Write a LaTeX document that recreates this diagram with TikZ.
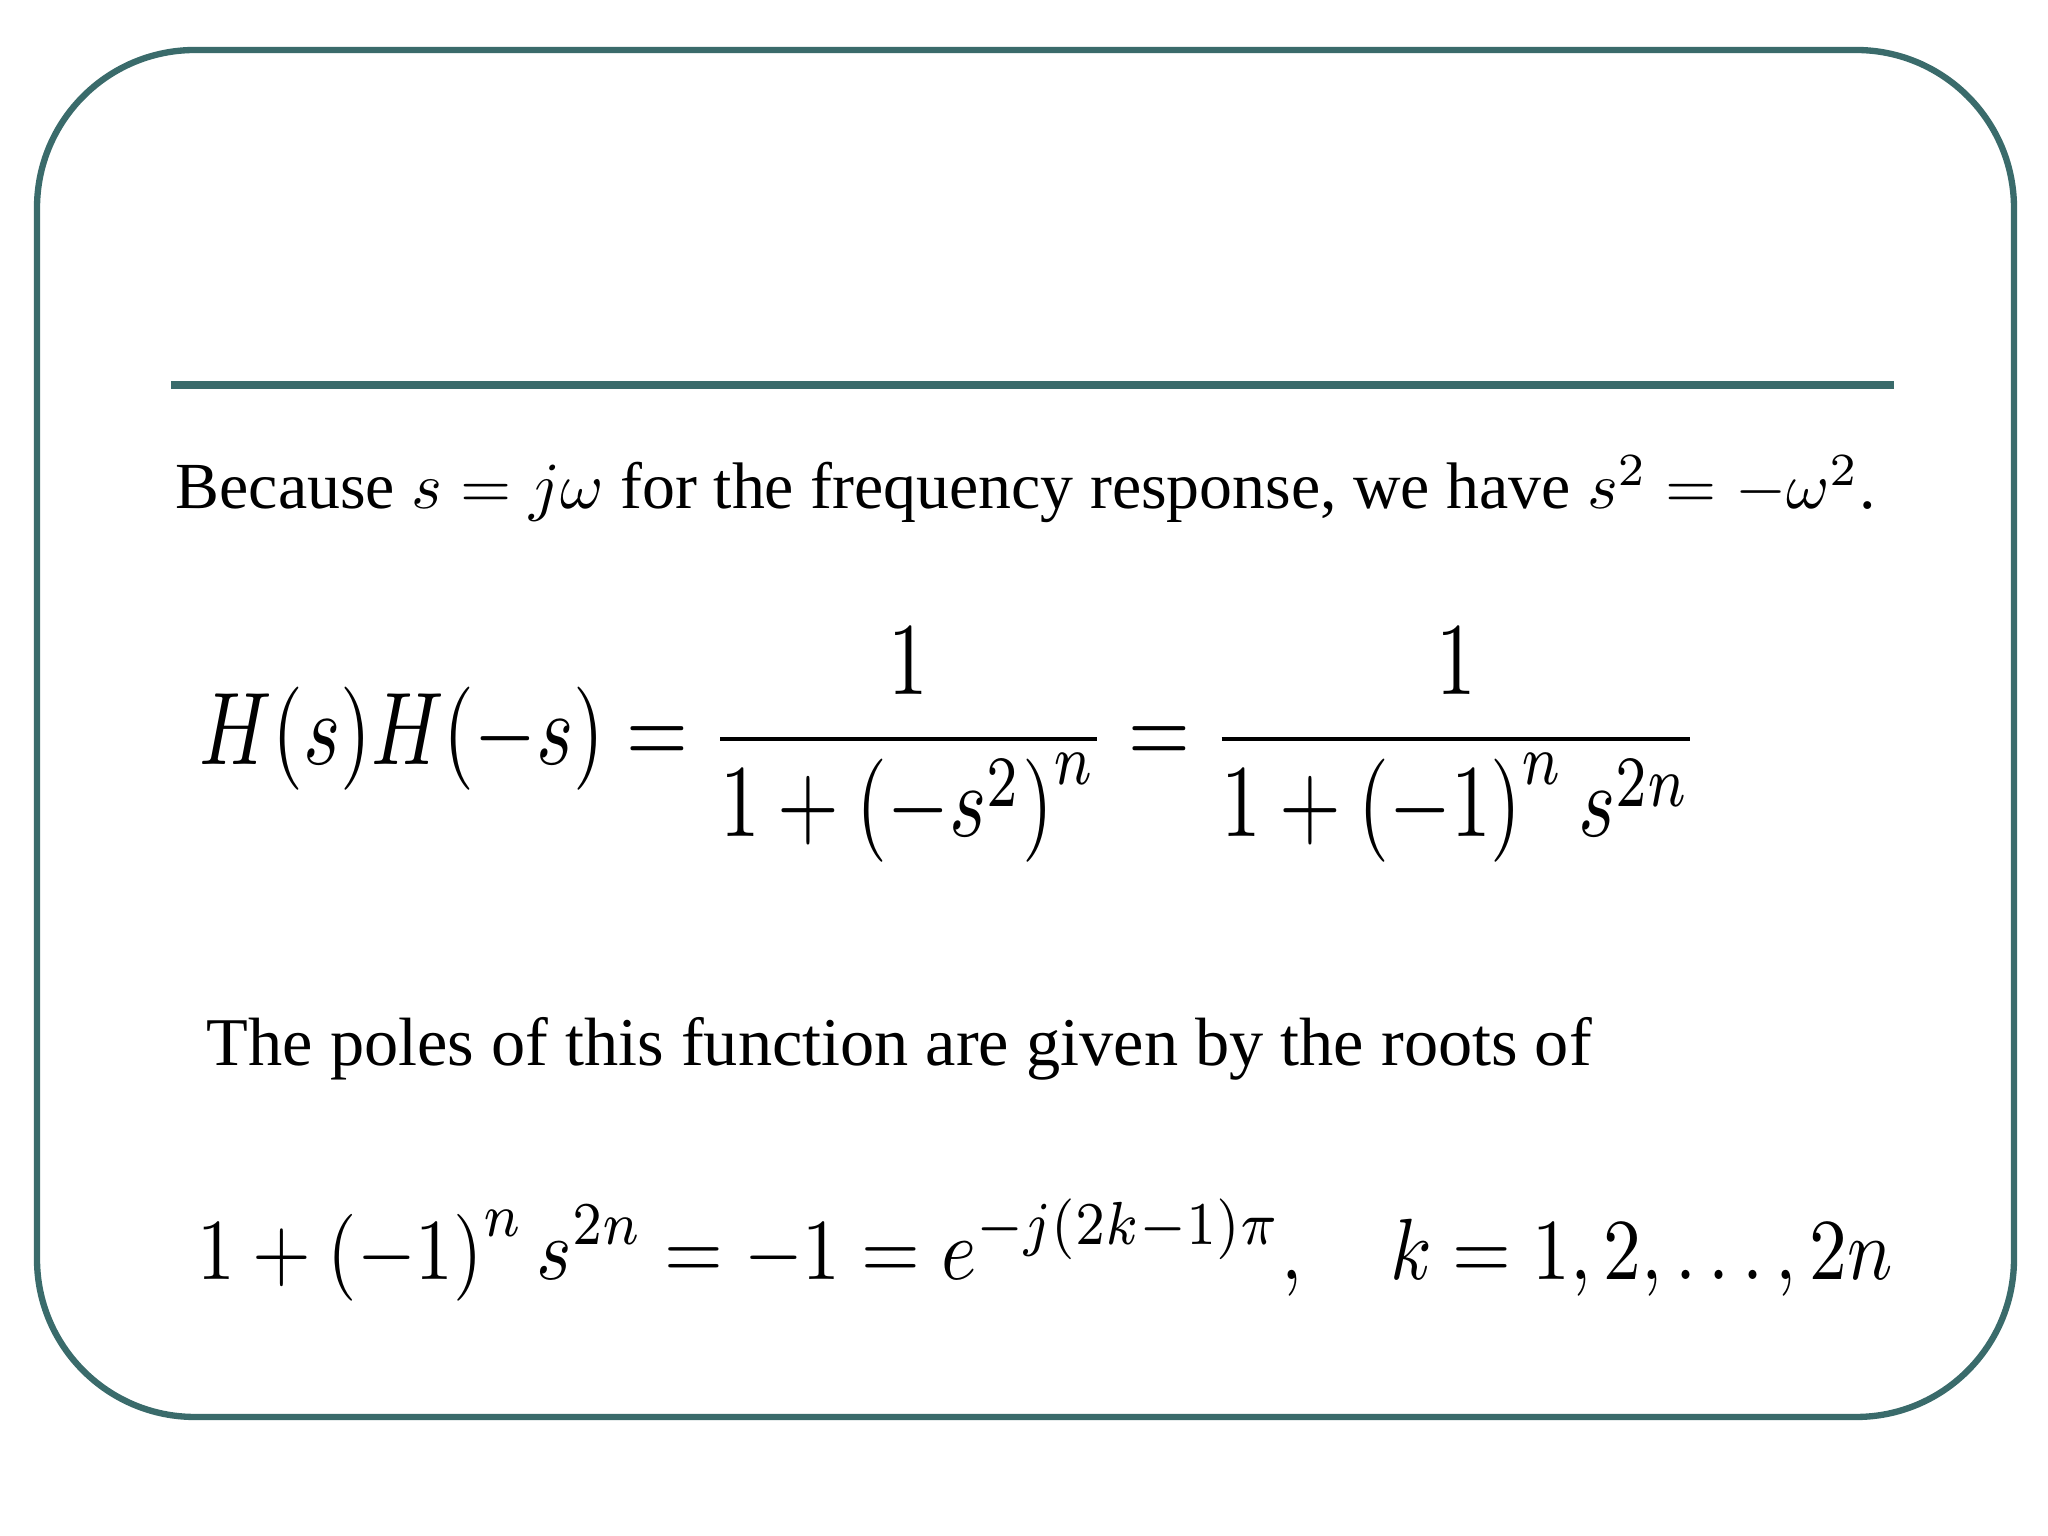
\documentclass[tikz,border=0pt]{standalone}
\usepackage{fontspec}
\setmainfont{Liberation Serif}
\usepackage{graphicx}
\definecolor{teal1}{HTML}{3A6B6B}
\begin{document}
\begin{tikzpicture}
\useasboundingbox (0,0) rectangle (20.48,15.36);
\tikzset{txt/.style={inner sep=0pt,anchor=base west}}
\draw[teal1,line width=1.8pt,rounded corners=1.58cm] (0.37,1.19) rectangle (20.14,14.86);
\draw[teal1,line width=2.2pt] (1.71,11.51) -- (18.94,11.51);
\node[txt] (l1) at (1.75,10.27) {\resizebox{17.0cm}{!}{Because $s=j\omega$ for the frequency response, we have $s^2=-\omega^2$.}};
\node[inner sep=0pt] (e1) at (9.5,7.91) {\scalebox{1}[1.3]{\resizebox{15.0cm}{!}{$\displaystyle H(s)H(-s)=\frac{1}{1+\left(-s^{2}\right)^{n}}=\frac{1}{1+\left(-1\right)^{n}s^{2n}}$}}};
\node[txt] (l2) at (2.06,4.70) {\resizebox{13.85cm}{!}{The poles of this function are given by the roots of}};
\node[txt] (e3) at (1.97,2.56) {\scalebox{1}[1.15]{\resizebox{16.95cm}{!}{$\displaystyle 1+\left(-1\right)^{n}s^{2n}=-1=e^{-j(2k-1)\pi},\quad k=1,2,\ldots,2n$}}};
\end{tikzpicture}
\end{document}
